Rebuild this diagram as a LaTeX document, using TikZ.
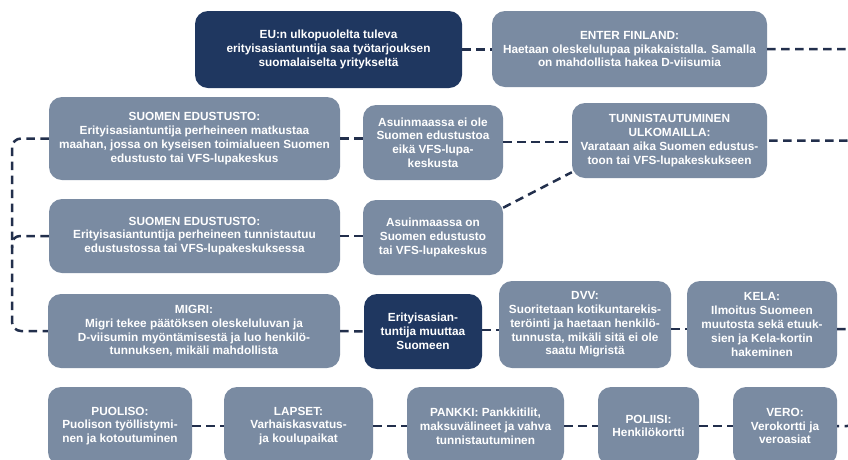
\documentclass[tikz,border=0pt]{standalone}
\usepackage{fontspec}
\setmainfont{Liberation Sans}
\usetikzlibrary{calc}
\definecolor{boxgray}{HTML}{7A8BA2}
\definecolor{navy}{HTML}{1F3760}
\definecolor{dashcol}{HTML}{222F4C}
\tikzset{
  gbox/.style={fill=boxgray, rounded corners=13pt, text=white, align=center, inner sep=0pt,
    font=\fontsize{11.8}{13.8}\selectfont\bfseries},
  nbox/.style={gbox, fill=navy},
  conn/.style={draw=dashcol, line width=2.5pt, dash pattern=on 8.5pt off 5.5pt},
}
\begin{document}
\begin{tikzpicture}[x=1pt, y=-1pt]
\useasboundingbox (0,0) rectangle (848,459);
\fill[white] (0,0) rectangle (848,459);
% boxes
\node[nbox, minimum width=267, minimum height=77] (eu) at (328.5,49.5) {EU:n ulkopuolelta tuleva\\erityisasiantuntija saa työtarjouksen\\suomalaiselta yritykseltä};
\node[gbox, minimum width=275, minimum height=76] (enter) at (629.5,49) {ENTER FINLAND:\\Haetaan oleskelulupaa pikakaistalla. Samalla\\on mahdollista hakea D-viisumia};
\node[gbox, minimum width=291, minimum height=83] (s1) at (194.5,138.5) {SUOMEN EDUSTUSTO:\\Erityisasiantuntija perheineen matkustaa\\maahan, jossa on kyseisen toimialueen Suomen\\edustusto tai VFS-lupakeskus};
\node[gbox, minimum width=140, minimum height=75] (asuinei) at (433,142.5) {Asuinmaassa ei ole\\Suomen edustustoa\\eikä VFS-lupa-\\keskusta};
\node[gbox, minimum width=195, minimum height=75] (tunnis) at (669.5,140.5) {TUNNISTAUTUMINEN\\ULKOMAILLA:\\Varataan aika Suomen edustus-\\toon tai VFS-lupakeskukseen};
\node[gbox, minimum width=291, minimum height=74] (s2) at (194.5,236) {SUOMEN EDUSTUSTO:\\Erityisasiantuntija perheineen tunnistautuu\\edustustossa tai VFS-lupakeskuksessa};
\node[gbox, minimum width=140, minimum height=75] (asuinon) at (433,237.5) {Asuinmaassa on\\Suomen edustusto\\tai VFS-lupakeskus};
\node[gbox, minimum width=292, minimum height=74] (migri) at (194,331) {MIGRI:\\Migri tekee päätöksen oleskeluluvan ja\\D-viisumin myöntämisestä ja luo henkilö-\\tunnuksen, mikäli mahdollista};
\node[nbox, minimum width=118, minimum height=75] (erit) at (423,331.5) {Erityisasian-\\tuntija muuttaa\\Suomeen};
\node[gbox, minimum width=172, minimum height=87] (dvv) at (585,324.5) {DVV:\\Suoritetaan kotikuntarekis-\\teröinti ja haetaan henkilö-\\tunnusta, mikäli sitä ei ole\\saatu Migristä};
\node[gbox, minimum width=150, minimum height=87] (kela) at (762,324.5) {KELA:\\Ilmoitus Suomeen\\muutosta sekä etuuk-\\sien ja Kela-kortin\\hakeminen};
\node[gbox, minimum width=144, minimum height=78] (puoliso) at (120,426) {PUOLISO:\\Puolison työllistymi-\\nen ja kotoutuminen};
\node[gbox, minimum width=149, minimum height=78] (lapset) at (298.5,426) {LAPSET:\\Varhaiskasvatus-\\ja koulupaikat};
\node[gbox, minimum width=157, minimum height=78] (pankki) at (485.5,426) {PANKKI: Pankkitilit,\\maksuvälineet ja vahva\\tunnistautuminen};
\node[gbox, minimum width=101, minimum height=78] (poliisi) at (648.5,426) {POLIISI:\\Henkilökortti};
\node[gbox, minimum width=104, minimum height=78] (vero) at (785,426) {VERO:\\Verokortti ja\\veroasiat};
% helper coordinates
\coordinate (lx) at (12,0);
\coordinate (rx) at (857,0);
% connectors
\draw[conn] (eu.east) -- (eu.east -| enter.west);
\draw[conn, rounded corners=10pt] (enter.east) -| (rx |- tunnis.east) -- (tunnis.east);
\draw[conn] (s1.east) -- (s1.east -| asuinei.west);
\draw[conn] (asuinei.east |- 0,142) -- (tunnis.west |- 0,142);
\draw[conn] (asuinon.23) -- (tunnis.198);
\draw[conn] (s2.east) -- (s2.east -| asuinon.west);
\draw[conn, rounded corners=9pt] (s1.west) -| (lx |- migri.west) -- (migri.west);
\draw[conn, rounded corners=8pt] (s2.west) -| ($(lx |- s2.west)+(0,12)$);
\draw[conn] (migri.east) -- (erit.west);
\draw[conn] (erit.east |- 0,330) -- (dvv.west |- 0,330);
\draw[conn] (dvv.east |- 0,329) -- (kela.west |- 0,329);
\draw[conn, rounded corners=10pt] (kela.east |- 0,329) -| (rx |- vero.east) -- (vero.east);
\draw[conn] (puoliso.east) -- (lapset.west);
\draw[conn] (lapset.east) -- (pankki.west);
\draw[conn] (pankki.east) -- (poliisi.west);
\draw[conn] (poliisi.east) -- (vero.west);
\end{tikzpicture}
\end{document}
